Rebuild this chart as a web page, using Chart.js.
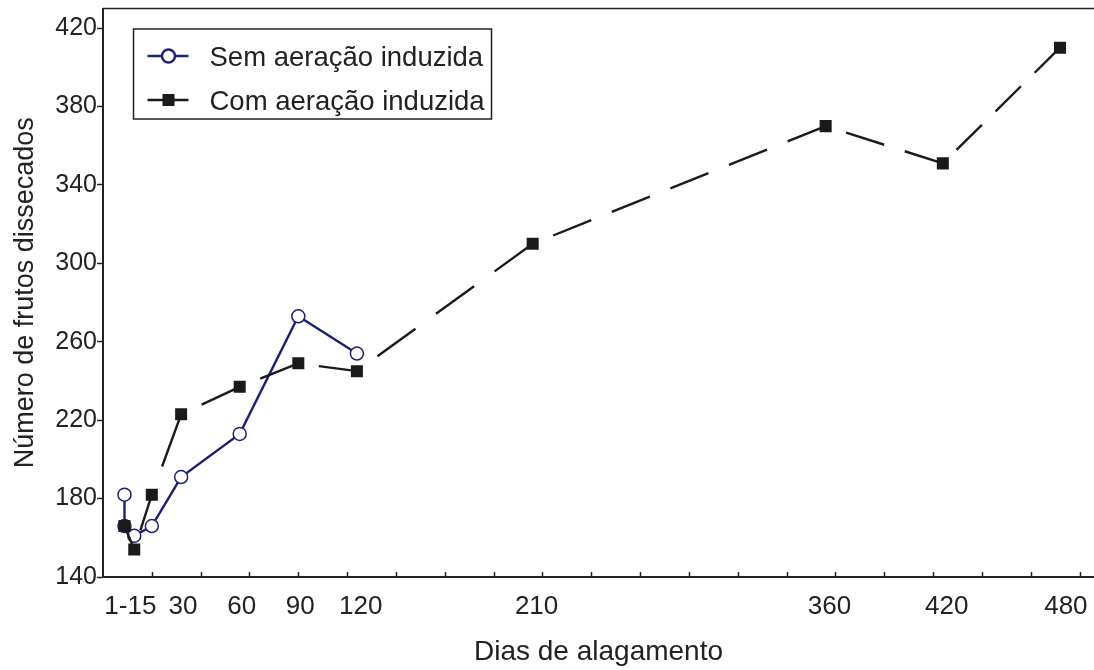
<!DOCTYPE html>
<html>
<head>
<meta charset="utf-8">
<script src="https://cdn.jsdelivr.net/npm/chart.js@4/dist/chart.umd.min.js"></script>
<style>
  body { margin: 0; background: #fff; }
</style>
</head>
<body>
<canvas id="Chart" width="1094" height="670"></canvas>
<script>
//data
var semDays = [1, 1, 6, 15, 30, 60, 90, 120];
var semValues = [182, 166, 161, 166, 191, 213, 273, 254];
var comDays = [1, 6, 15, 30, 60, 90, 120, 210, 360, 420, 480];
var comValues = [166, 154, 182, 223, 237, 249, 245, 310, 370, 351, 410];
var seriesNames = ["Sem aeração induzida", "Com aeração induzida"];

//axis ticks
var yTicks = [140, 180, 220, 260, 300, 340, 380, 420];
var xLabels = ["1-15", "30", "60", "90", "120", "210", "360", "420", "480"];
var xLabelDays = [4, 31, 61, 91, 122, 212, 362, 422, 483];
var xMinorTicks = [15, 40, 65, 90, 115, 140, 165, 190, 215, 240, 265, 290, 315, 340, 365, 390, 415, 440, 465, 490];

var FONT = '"Liberation Sans", Arial, sans-serif';
var INK = "#222";

function toPoints(days, values) {
  return days.map(function (d, i) {
    return { x: d, y: values[i] };
  });
}

//every segment gets its own dash pattern, starting with a gap and ending on the marker
function segDash(ctx) {
  var L = Math.hypot(ctx.p1.x - ctx.p0.x, ctx.p1.y - ctx.p0.y);
  var n = Math.round(L / 63);
  if (!n) return [[], 0];
  var p = L / n;
  return [[p * 0.65, p * 0.35], p * 0.65];
}

//no extra room for overhanging tick labels
function noPadding(s) {
  s.paddingTop = 0;
  s.paddingBottom = 0;
  s.paddingLeft = 0;
  s.paddingRight = 0;
}

//let the plot run to the right edge of the canvas
var fullWidth = {
  id: "fullWidth",
  afterLayout: function (chart) {
    var a = chart.chartArea;
    var x = chart.scales.x;
    a.right = chart.width;
    a.width = a.right - a.left;
    x.left = a.left;
    x.right = a.right;
    x.width = a.width;
    x.configure();
  },
};

//top frame line and inner tick marks on the x axis
var frame = {
  id: "frame",
  afterDraw: function (chart) {
    var ctx = chart.ctx;
    var a = chart.chartArea;
    var x = chart.scales.x;
    ctx.save();
    ctx.strokeStyle = INK;
    ctx.lineWidth = 1.5;
    ctx.beginPath();
    ctx.moveTo(a.left, a.top);
    ctx.lineTo(a.right, a.top);
    xMinorTicks.forEach(function (d) {
      var px = Math.round(x.getPixelForValue(d)) + 0.5;
      ctx.moveTo(px, a.bottom);
      ctx.lineTo(px, a.bottom - 5);
    });
    ctx.stroke();
    ctx.restore();
  },
};

//boxed legend inside the plot
var legendBox = {
  id: "legendBox",
  afterDatasetsDraw: function (chart) {
    var ctx = chart.ctx;
    var a = chart.chartArea;
    var left = a.left + 30.5;
    var top = a.top + 20.5;
    ctx.save();
    ctx.fillStyle = "#fff";
    ctx.fillRect(left, top, 358, 90);
    ctx.strokeStyle = INK;
    ctx.lineWidth = 1.5;
    ctx.strokeRect(left, top, 358, 90);
    chart.data.datasets.forEach(function (ds, i) {
      var y = top + 27 + i * 44;
      ctx.setLineDash([]);
      ctx.strokeStyle = ds.borderColor;
      ctx.lineWidth = ds.borderWidth;
      ctx.beginPath();
      ctx.moveTo(left + 14, y);
      ctx.lineTo(left + 55, y);
      ctx.stroke();
      ctx.fillStyle = ds.pointBackgroundColor;
      ctx.strokeStyle = ds.pointBorderColor;
      Chart.helpers.drawPoint(ctx, {
        pointStyle: ds.pointStyle,
        radius: ds.pointRadius,
        borderWidth: ds.pointBorderWidth,
        rotation: 0,
      }, left + 35, y);
      ctx.fillStyle = INK;
      ctx.font = "27.5px " + FONT;
      ctx.textBaseline = "alphabetic";
      ctx.fillText(ds.label, left + 76, y + 9.5);
    });
    ctx.restore();
  },
};

var ctx = document.getElementById("Chart").getContext("2d");
var myChart = new Chart(ctx, {
  type: "line",
  data: {
    datasets: [
      {
        label: seriesNames[0],
        data: toPoints(semDays, semValues),
        borderColor: "#1c2270",
        borderWidth: 2.4,
        pointStyle: "circle",
        pointRadius: 6.5,
        pointBorderWidth: 1.5,
        pointBackgroundColor: "#fff",
        pointBorderColor: "#1c2270",
        order: 2,
      },
      {
        label: seriesNames[1],
        data: toPoints(comDays, comValues),
        borderColor: "#1a1a1a",
        borderWidth: 2.4,
        pointStyle: "rect",
        pointRadius: 8.5,
        pointBorderWidth: 0,
        pointBackgroundColor: "#1a1a1a",
        pointBorderColor: "#1a1a1a",
        order: 1,
        segment: {
          borderDash: function (c) { return segDash(c)[0]; },
          borderDashOffset: function (c) { return segDash(c)[1]; },
        },
      },
    ],
  },
  options: {
    responsive: false,
    animation: false,
    events: [],
    layout: { padding: { top: 7, right: 0, left: 0, bottom: 0 } },
    plugins: {
      legend: { display: false },
      tooltip: { enabled: false },
    },
    scales: {
      x: {
        type: "linear",
        min: -10,
        max: 497.4,
        afterFit: function (s) { s.height = 93; noPadding(s); },
        afterBuildTicks: function (s) {
          s.ticks = xLabelDays.map(function (d) { return { value: d }; });
        },
        grid: { display: true, drawOnChartArea: false, drawTicks: false },
        border: { display: true, color: INK, width: 2 },
        ticks: {
          padding: 14,
          maxRotation: 0,
          autoSkip: false,
          color: INK,
          font: { family: FONT, size: 26 },
          callback: function (v, i) { return xLabels[i]; },
        },
        title: {
          display: true,
          text: "Dias de alagamento",
          color: INK,
          font: { family: FONT, size: 28 },
          padding: { top: 0, bottom: 1 },
        },
      },
      y: {
        min: 140,
        max: 430,
        afterFit: function (s) { s.width = 103; noPadding(s); },
        afterBuildTicks: function (s) {
          s.ticks = yTicks.map(function (v) { return { value: v }; });
        },
        grid: { display: true, drawOnChartArea: false, drawTicks: true, tickLength: 6, color: INK, tickWidth: 1.5 },
        border: { display: true, color: INK, width: 2 },
        ticks: {
          padding: 0,
          color: INK,
          font: { family: FONT, size: 25 },
        },
        title: {
          display: true,
          text: "Número de frutos dissecados",
          color: INK,
          font: { family: FONT, size: 27 },
          padding: { top: 9, bottom: 0 },
        },
      },
    },
  },
  plugins: [fullWidth, frame, legendBox],
});
</script>
</body>
</html>
